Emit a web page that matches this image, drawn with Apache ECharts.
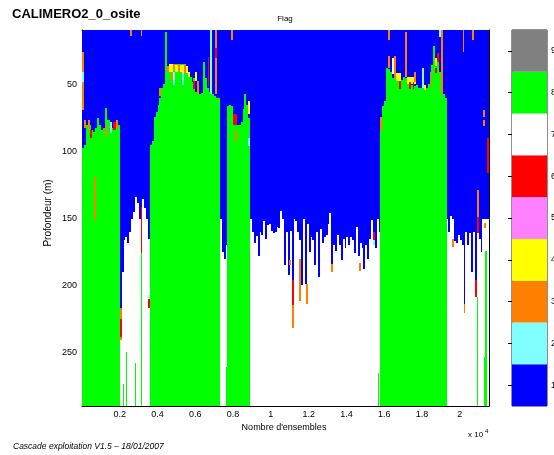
<!DOCTYPE html>
<html><head><meta charset="utf-8">
<script src="https://cdn.jsdelivr.net/npm/echarts@6/dist/echarts.min.js"></script>
<style>html,body{margin:0;padding:0;background:#fff;}#c{width:554px;height:455px;}</style>
</head><body><div id="c"></div>
<script>
// ---------------- DATA ----------------
const chartTitle = 'CALIMERO2_0_osite';
const panelTitle = 'Flag';
const xAxisName = "Nombre d'ensembles";
const yAxisName = 'Profondeur (m)';
const footerText = 'Cascade exploitation V1.5 – 18/01/2007';
const flagValues = [1, 2, 3, 4, 5, 6, 7, 8, 9];
const flagColors = ['#0000ff', '#80ffff', '#ff8000', '#ffff00', '#ff80ff', '#ff0000', '#ffffff', '#00ff00', '#808080'];
const ensembleRange = [0, 21550];
const depthRange = [8.8, 290.4];
const binWidth = 100; // ensembles per column
// depth (m) where the blue (flag 1) top layer ends, one value per column of 100 ensembles
const surfaceDepth = [
  97,95,80,79,80,84,85,82,75,80,84,82,67,76,76,80,82,78,78,80,
  217,190,166,164,168,160,150,145,134,138,150,141,135,142,150,165,
  95,92,74,70,65,60,52,49,10,40,34,34,34,34,34,34,34,34,38,40,42,44,48,45,55,57,57,56,33,45,52,55,57,57,58,60,60,
  150,175,180,170,
  66,65,66,72,76,80,80,78,68,57,65,75,
  150,160,168,163,178,160,162,152,165,155,154,159,161,160,156,157,144,150,185,160,
  192,159,196,150,152,160,166,200,150,199,154,175,164,166,185,160,194,158,168,164,
  162,154,146,184,170,174,162,170,181,165,172,164,170,164,166,176,156,178,168,172,
  188,170,180,165,151,165,172,150,160,
  76,66,62,37,38,40,45,42,46,47,45,46,44,45,47,48,50,50,51,50,52,52,52,53,52,49,48,35,21,30,33,40,45,57,60,
  150,160,148,150,167,168,162,166,170,214,160,170,161,190,160,200,129,165,175,150,150,150,150
];
// ensemble ranges where the layer below the blue is flag 8 (green); elsewhere flag 7 (white)
const greenSegments = [[0, 2000], [3600, 7300], [7700, 8900], [15800, 19300]];
// isolated patches: [ensembleStart, ensembleEnd, depthTop, depthBottom, flag]
const patches = [
  [0,100,25,69,3],[0,100,40,48,2],[100,200,76,82,3],[300,400,76,84,3],[450,550,84,90,6],
  [650,750,119,151,3],[1200,1300,80,88,3],[1500,1600,78,86,2],[1650,1800,78,84,6],[1800,1900,76,82,3],
  [2000,2100,217,225,3],[2000,2100,225,239,6],[2000,2100,239,241,3],
  [3100,3200,141,176,6],[3500,3600,207,210,2],[3500,3600,210,217,6],
  [2150,2200,274,291,8],[2320,2370,250,291,8],[2830,2880,258,291,8],[3100,3200,176,291,8],
  [2550,2650,9,13,3],[3100,3200,9,13,3],
  [4100,4200,52,58,3],
  [4500,4600,36,40,3],[4600,4800,34,40,4],[4800,4900,34,39,3],[4900,5100,35,40,4],[5100,5200,34,40,3],
  [5200,5400,35,40,4],[5400,5500,34,42,3],[5500,5600,36,41,4],[4700,4800,40,46,3],[4800,4900,40,50,2],
  [5300,5400,40,50,2],[5600,5700,40,44,4],[5900,6000,47,53,6],[6000,6100,40,47,4],[6100,6200,47,57,3],
  [6650,6750,29,51,6],[6800,6900,9,57,2],[7050,7150,9,57,3],[7050,7150,22,30,6],
  [7600,7650,261,291,8],[7900,8000,9,16,3],
  [8000,8200,72,80,6],[8100,8200,84,92,3],[8800,8900,62,72,4],[8800,8900,90,96,2],
  [10950,11050,181,185,3],[11100,11200,196,215,6],[11100,11200,215,232,3],[11500,11600,180,212,3],
  [11850,11950,199,214,3],[13200,13300,184,190,3],[14650,14750,183,189,3],
  [15400,15500,160,166,6],[15400,15500,166,170,2],[15650,15700,266,291,8],
  [15800,15900,74,84,3],[16200,16300,9,16,3],[16200,16300,28,37,3],[16400,16500,30,42,7],[16500,16600,28,45,3],
  [16600,16900,41,47,4],[16800,16900,47,53,6],[17100,17200,10,44,3],[17200,17700,44,49,4],[17300,17400,48,53,6],
  [17500,17600,48,53,6],[17600,17700,40,48,3],[18000,18100,37,52,2],[18100,18200,50,54,4],[18400,18500,40,52,3],
  [18700,18800,30,36,4],[18700,18800,37,41,6],[18800,18900,26,33,6],[18900,19000,9,14,2],[19000,19100,9,57,3],
  [19600,19700,165,171,3],[20150,20250,9,25,3],[20200,20300,214,221,3],[20650,20750,9,16,3],
  [20800,20900,196,209,6],[20900,20950,209,291,8],[20900,21000,129,149,3],[20900,21000,149,161,6],
  [21250,21350,69,74,3],[21250,21350,76,81,3],[21300,21400,153,157,3],[21350,21420,174,291,8],
  [21300,21420,254,291,8],[21450,21550,90,116,6]
];

// ---------------- BUILD ----------------
function bottomFlag(x0, x1) {
  const mid = (x0 + x1) / 2;
  for (const s of greenSegments) if (mid >= s[0] && mid < s[1]) return 8;
  return 7;
}
const columnCells = [];
surfaceDepth.forEach((d, i) => {
  const x0 = i * binWidth, x1 = Math.min((i + 1) * binWidth, ensembleRange[1]);
  columnCells.push([x0, x1, depthRange[0], d, 1]);
  columnCells.push([x0, x1, d, depthRange[1], bottomFlag(x0, x1)]);
});

function renderCell(params, api) {
  const p0 = api.coord([api.value(0), api.value(2)]);
  const p1 = api.coord([api.value(1), api.value(3)]);
  const l = Math.round(Math.min(p0[0], p1[0])), r = Math.round(Math.max(p0[0], p1[0]));
  const t = Math.round(Math.min(p0[1], p1[1])), b = Math.round(Math.max(p0[1], p1[1]));
  return { type: 'rect', shape: { x: l, y: t, width: Math.max(1, r - l), height: Math.max(1, b - t) },
           style: { fill: flagColors[api.value(4) - 1] } };
}

const FONT = 'Liberation Sans, Arial, sans-serif';
const lbl = { color: '#000', fontSize: 9, fontFamily: FONT };
const chart = echarts.init(document.getElementById('c'), null, { renderer: 'canvas' });
chart.setOption({
  animation: false,
  backgroundColor: '#fff',
  grid: [
    { left: 82, top: 30, width: 407, height: 376, containLabel: false, outerBoundsMode: 'none' },
    { left: 512, top: 30, width: 35, height: 376, containLabel: false, outerBoundsMode: 'none',
      show: true, borderColor: '#222', borderWidth: 1, backgroundColor: 'transparent' }
  ],
  xAxis: [
    { gridIndex: 0, type: 'value', min: ensembleRange[0], max: ensembleRange[1], interval: 2000, position: 'bottom',
      axisLine: { show: true, onZero: false, lineStyle: { color: '#000', width: 1 } },
      axisTick: { show: true, inside: true, length: 4, lineStyle: { color: '#000' } },
      axisLabel: { ...lbl, margin: 4, showMinLabel: false, showMaxLabel: false,
        formatter: v => String(+(v / 1e4).toFixed(1)) },
      splitLine: { show: false } },
    { gridIndex: 0, type: 'value', min: ensembleRange[0], max: ensembleRange[1], interval: 2000, position: 'top',
      axisLine: { show: true, onZero: false, lineStyle: { color: '#000', width: 1 } },
      axisTick: { show: true, inside: true, length: 4, lineStyle: { color: '#000' } },
      axisLabel: { show: false }, splitLine: { show: false } },
    { gridIndex: 1, type: 'value', min: 0, max: 1, show: false }
  ],
  yAxis: [
    { gridIndex: 0, type: 'value', inverse: true, min: depthRange[0], max: depthRange[1], position: 'left',
      axisLine: { show: true, onZero: false, lineStyle: { color: '#000', width: 1 } },
      axisTick: { show: true, inside: true, length: 4, lineStyle: { color: '#000' } },
      axisLabel: { ...lbl, margin: 5, showMinLabel: false, showMaxLabel: false },
      splitLine: { show: false } },
    { gridIndex: 0, type: 'value', inverse: true, min: depthRange[0], max: depthRange[1], position: 'right',
      axisLine: { show: true, onZero: false, lineStyle: { color: '#000', width: 1 } },
      axisTick: { show: true, inside: true, length: 4, lineStyle: { color: '#000' } },
      axisLabel: { show: false }, splitLine: { show: false } },
    { gridIndex: 1, type: 'category', data: flagValues.map(String), position: 'right',
      axisLine: { show: false },
      axisTick: { show: true, inside: true, alignWithLabel: true, length: 4, lineStyle: { color: '#000' } },
      axisLabel: { ...lbl, margin: 4 } },
    { gridIndex: 1, type: 'category', data: flagValues.map(String), position: 'left',
      axisLine: { show: false },
      axisTick: { show: true, inside: true, alignWithLabel: true, length: 4, lineStyle: { color: '#000' } },
      axisLabel: { show: false } }
  ],
  series: [
    { type: 'custom', xAxisIndex: 0, yAxisIndex: 0, clip: true, z: 2, renderItem: renderCell,
      encode: { x: [0, 1], y: [2, 3] }, data: columnCells, silent: true },
    { type: 'custom', xAxisIndex: 0, yAxisIndex: 0, clip: true, z: 3, renderItem: renderCell,
      encode: { x: [0, 1], y: [2, 3] }, data: patches, silent: true },
    { type: 'bar', xAxisIndex: 2, yAxisIndex: 2, barWidth: '100%', barCategoryGap: '0%', z: 1, silent: true,
      data: flagValues.map((v, i) => ({ value: 1, itemStyle: { color: flagColors[i] } })) }
  ],
  graphic: [
    { type: 'text', left: 12, top: 8, style: { text: chartTitle, font: 'bold 13px ' + FONT, fill: '#000' } },
    { type: 'text', x: 285, y: 19, style: { text: panelTitle, font: '8px ' + FONT, fill: '#000', align: 'center', verticalAlign: 'middle' } },
    { type: 'text', x: 284, y: 428, style: { text: xAxisName, font: '9px ' + FONT, fill: '#000', align: 'center', verticalAlign: 'middle' } },
    { type: 'text', x: 48, y: 213, rotation: Math.PI / 2, style: { text: yAxisName, font: '10px ' + FONT, fill: '#000', align: 'center', verticalAlign: 'middle' } },
    { type: 'text', x: 468, y: 435, style: { text: 'x 10', font: '8px ' + FONT, fill: '#000', verticalAlign: 'middle' } },
    { type: 'text', x: 485, y: 431, style: { text: '4', font: '6px ' + FONT, fill: '#000', verticalAlign: 'middle' } },
    { type: 'text', x: 13, y: 447, style: { text: footerText, font: 'italic 8.5px ' + FONT, fill: '#000', verticalAlign: 'middle' } }
  ]
});
</script></body></html>
